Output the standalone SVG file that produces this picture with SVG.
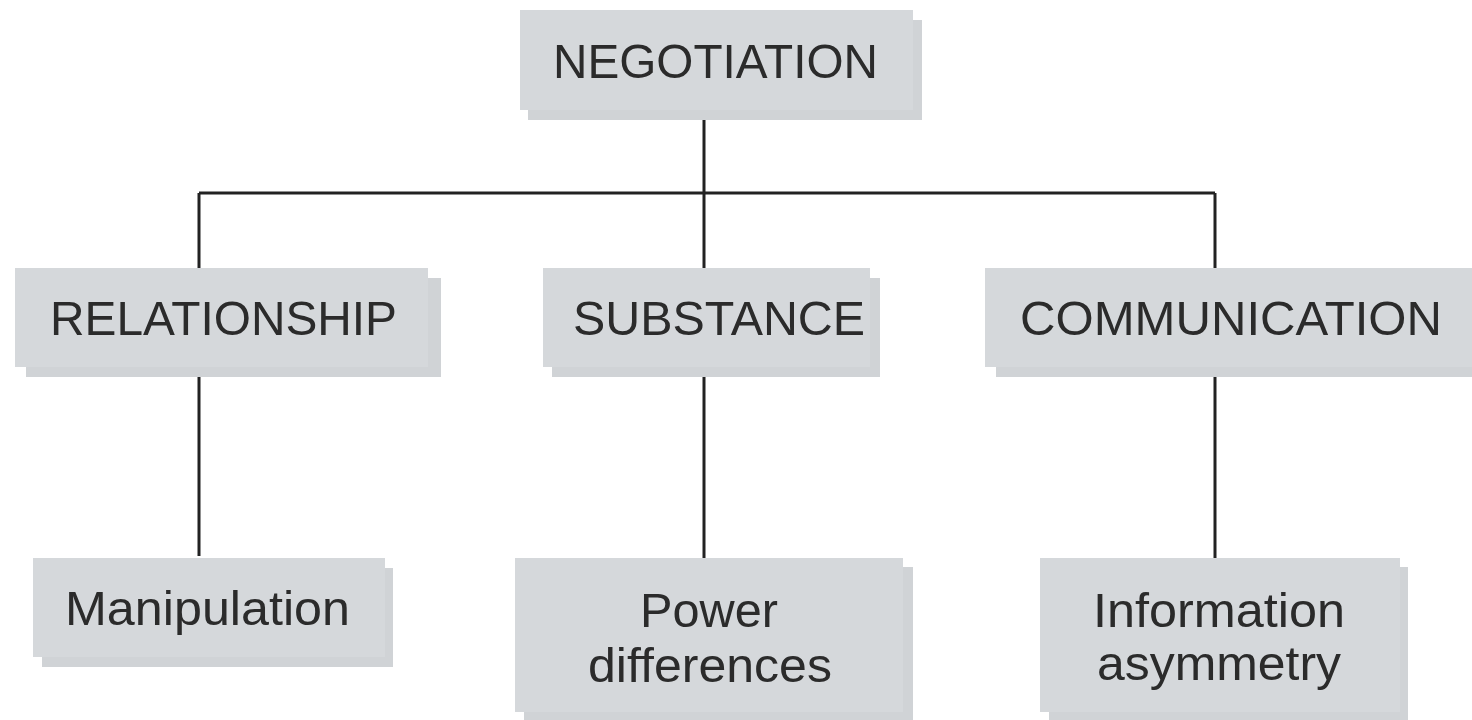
<svg xmlns="http://www.w3.org/2000/svg" width="1472" height="720" viewBox="0 0 1472 720">
<style>
.sh{fill:#d0d3d6}
.bx{fill:#d5d8db}
.t{font-family:"Liberation Sans",Arial,sans-serif;font-size:49px;fill:#2b2b2b;text-anchor:middle}
.c{stroke:#222;stroke-width:3;fill:none}
</style>
<rect width="1472" height="720" fill="#fff"/>
<g id="connectors">
<path class="c" d="M704 110V268M199 193H1215M199 193V268M1215 193V268"/>
<path class="c" d="M199 377V556M704 377V558M1215 377V558"/>
</g>
<g id="negotiation">
<rect class="sh" x="528" y="20" width="394" height="100"/>
<rect class="bx" x="520" y="10" width="393" height="100"/>
<text class="t" x="715.5" y="78" textLength="325" lengthAdjust="spacingAndGlyphs">NEGOTIATION</text>
</g>
<g id="relationship">
<rect class="sh" x="26" y="278" width="415" height="99"/>
<rect class="bx" x="15" y="268" width="413" height="99"/>
<text class="t" x="223.5" y="335" textLength="347" lengthAdjust="spacingAndGlyphs">RELATIONSHIP</text>
</g>
<g id="substance">
<rect class="sh" x="552" y="278" width="328" height="99"/>
<rect class="bx" x="543" y="268" width="327" height="99"/>
<text class="t" x="719" y="335" textLength="292" lengthAdjust="spacingAndGlyphs">SUBSTANCE</text>
</g>
<g id="communication">
<rect class="sh" x="996" y="278" width="476" height="99"/>
<rect class="bx" x="985" y="268" width="487" height="99"/>
<text class="t" x="1231" y="335" textLength="422" lengthAdjust="spacingAndGlyphs">COMMUNICATION</text>
</g>
<g id="manipulation">
<rect class="sh" x="42" y="568" width="351" height="99"/>
<rect class="bx" x="33" y="558" width="352" height="99"/>
<text class="t" x="207.5" y="625" textLength="285" lengthAdjust="spacingAndGlyphs">Manipulation</text>
</g>
<g id="power-differences">
<rect class="sh" x="524" y="567" width="389" height="153"/>
<rect class="bx" x="515" y="558" width="388" height="154"/>
<text class="t" x="709" y="627" textLength="138" lengthAdjust="spacingAndGlyphs">Power</text>
<text class="t" x="710" y="682" textLength="244" lengthAdjust="spacingAndGlyphs">differences</text>
</g>
<g id="information-asymmetry">
<rect class="sh" x="1049" y="567" width="359" height="153"/>
<rect class="bx" x="1040" y="558" width="360" height="154"/>
<text class="t" x="1219" y="627" textLength="252" lengthAdjust="spacingAndGlyphs">Information</text>
<text class="t" x="1219" y="680" textLength="244" lengthAdjust="spacingAndGlyphs">asymmetry</text>
</g>
</svg>
